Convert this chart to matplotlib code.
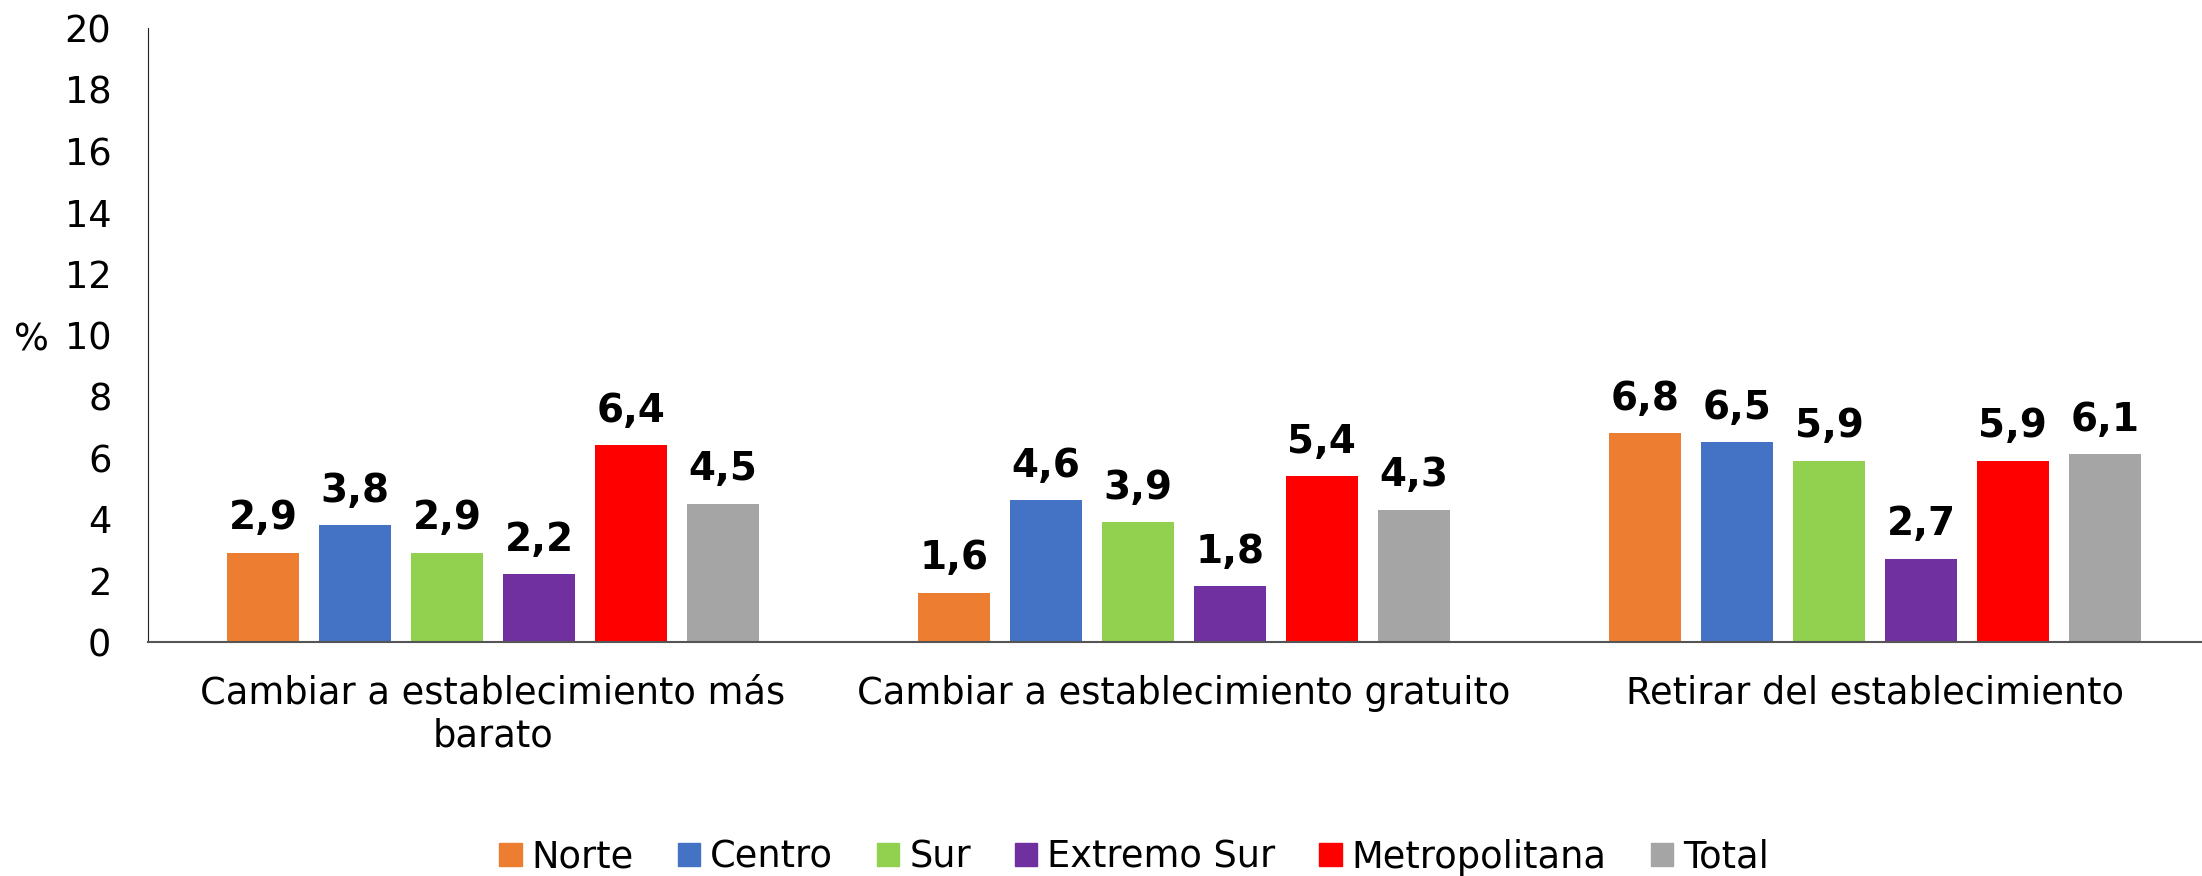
import numpy as np
import matplotlib.pyplot as plt
from matplotlib.patches import Patch

categories = ["Cambiar a establecimiento más\nbarato",
              "Cambiar a establecimiento gratuito",
              "Retirar del establecimiento"]
series = ["Norte", "Centro", "Sur", "Extremo Sur", "Metropolitana", "Total"]
norte = [2.9, 1.6, 6.8]
centro = [3.8, 4.6, 6.5]
sur = [2.9, 3.9, 5.9]
extremo_sur = [2.2, 1.8, 2.7]
metropolitana = [6.4, 5.4, 5.9]
total = [4.5, 4.3, 6.1]
colors = ["#ED7D31", "#4472C4", "#92D050", "#7030A0", "#FF0000", "#A5A5A5"]
yticks = [0, 2, 4, 6, 8, 10, 12, 14, 16, 18, 20]

values = [norte, centro, sur, extremo_sur, metropolitana, total]

W, H = 2202, 876
fig = plt.figure(figsize=(W / 100, H / 100), dpi=100)
ax = fig.add_axes([147.5 / W, 1 - 641.6 / H, 2073 / W, (641.6 - 28) / H])

x = np.arange(len(categories))
step = 0.133
width = 0.104
for i, (name, vals, c) in enumerate(zip(series, values, colors)):
    pos = x + (i - 2.5) * step
    ax.bar(pos, vals, width=width, color=c, label=name)
    for p, v in zip(pos, vals):
        ax.annotate(f"{v:.1f}".replace(".", ","), (p, v), xytext=(0, 11),
                    textcoords="offset points", ha="center", va="bottom",
                    fontsize=28, fontweight="bold")

ax.set_xlim(-0.5, 2.5)
ax.set_ylim(0, 20)
ax.set_yticks(yticks)
ax.set_yticklabels([str(t) for t in yticks], fontsize=26.5)
ax.set_xticks(x)
ax.set_xticklabels(categories, fontsize=26.5, linespacing=1.2)
ax.tick_params(length=0)
ax.tick_params(axis="y", pad=26)
ax.tick_params(axis="x", pad=24)
for s in ["top", "right"]:
    ax.spines[s].set_visible(False)
ax.spines["left"].set_color("#222222")
ax.spines["bottom"].set_color("#555555")
ax.spines["bottom"].set_linewidth(1.5)

fig.text(31 / W, 1 - 340 / H, "%", fontsize=26.5, ha="center", va="center")

handles = [Patch(color=c) for c in colors]
fig.legend(handles, series, loc="center", bbox_to_anchor=(0.515, 1 - 857 / H),
           ncol=6, frameon=False, fontsize=26.5, handlelength=0.6, handleheight=0.6,
           handletextpad=0.27, columnspacing=1.2)

fig.savefig("out.png", dpi=100)
